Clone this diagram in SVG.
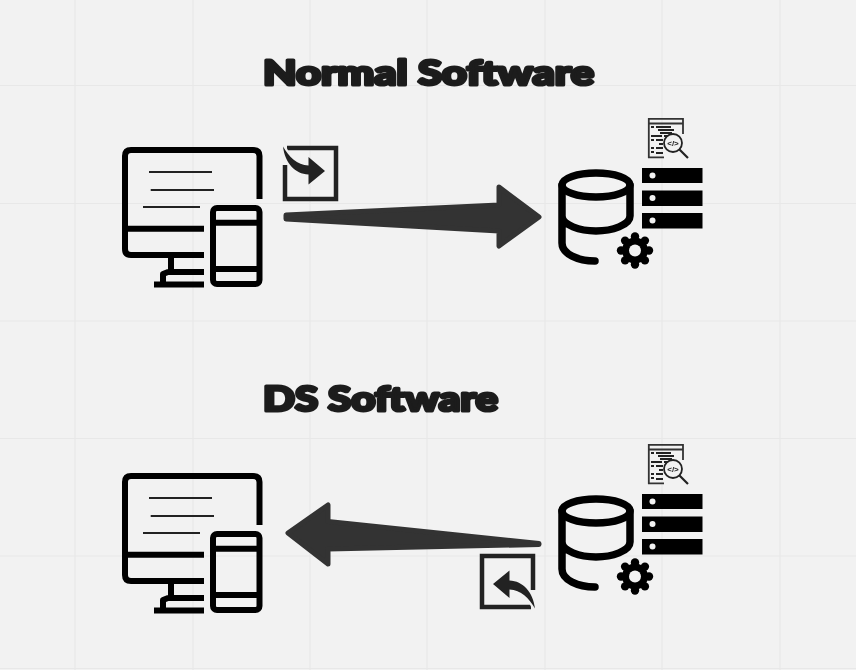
<svg xmlns="http://www.w3.org/2000/svg" width="856" height="670" viewBox="0 0 856 670">
<style>
.grid{stroke:#e8e8e8;stroke-width:1.2;fill:none}
.title{font-family:"Lato","Liberation Sans",sans-serif;font-weight:900;font-size:35px;fill:#1c1c1c;stroke:#1c1c1c;stroke-width:3.2px;stroke-linejoin:round;filter:url(#gray)}
.k{fill:none;stroke:#000;stroke-width:6;stroke-linejoin:round}
.thin{fill:none;stroke:#222;stroke-width:2}
.db{fill:none;stroke:#000;stroke-width:7.5;stroke-linecap:round;stroke-linejoin:round}
.doc{fill:none;stroke:#333;stroke-width:1.8}
.docl{fill:none;stroke:#222;stroke-width:1.8}
.arrow{fill:#333;stroke:#333;stroke-width:5;stroke-linejoin:round}
.bar{fill:#000}
.dot{fill:#f2f2f2}
</style>
<defs>
<filter id="gray" x="-5%" y="-20%" width="110%" height="140%"><feOffset dx="0" dy="0"/></filter>
<g id="client">
<path class="k" d="M204 255H131Q125 255 125 249V156Q125 150 131 150H253Q259.500 150 259.500 156V199"/>
<path class="k" d="M125 228.700H204M171 257V272M204 272H168L163 274V284.500M154 284.500H204"/>
<path class="thin" d="M149 172H212M150.700 190H214M143 207H200"/>
<rect class="k" x="213" y="208" width="46.500" height="76" rx="4"/>
<path class="k" d="M213 222.700H259.500M213 269H259.500"/>
</g>
<g id="server">
<ellipse class="db" cx="596" cy="185" rx="34" ry="12"/>
<path class="db" d="M630 185V216C630 225 612 231 596 231C580 231 562 225 562 216M562 185V243C562 254 578 261 595 261"/>
<g fill="#000">
<circle cx="635" cy="250.500" r="13"/>
<circle cx="635" cy="236.500" r="4.200"/>
<circle cx="635" cy="264.500" r="4.200"/>
<circle cx="621" cy="250.500" r="4.200"/>
<circle cx="649" cy="250.500" r="4.200"/>
<circle cx="625.100" cy="240.600" r="4.200"/>
<circle cx="644.900" cy="240.600" r="4.200"/>
<circle cx="625.100" cy="260.400" r="4.200"/>
<circle cx="644.900" cy="260.400" r="4.200"/>
</g>
<circle cx="635" cy="250.500" r="6" fill="#f2f2f2"/>
<rect class="bar" x="642" y="168" width="60.500" height="15"/>
<rect class="bar" x="642" y="190.500" width="60.500" height="15.500"/>
<rect class="bar" x="642" y="213" width="60.500" height="15.500"/>
<circle class="dot" cx="652.500" cy="175.500" r="3"/>
<circle class="dot" cx="652.500" cy="198" r="3"/>
<circle class="dot" cx="652.500" cy="220.500" r="3"/>
<path class="doc" d="M664 157.300H648.800V118.800H683V134M648.800 123.500H683"/>
<path class="docl" d="M651 127H654M656 127H671M658 130H674M660 133H672M651 136H662M664 136H668M651 140H654M656 140H663M659 144H663M651 148H654M656 148H663M651 152H654M656 153H663"/>
<circle cx="673" cy="143" r="9" fill="#f2f2f2" stroke="#222" stroke-width="1.800"/>
<path d="M679.500 149.500L688 158" stroke="#222" stroke-width="2.200" fill="none"/>
<text x="673" y="146" text-anchor="middle" font-family="'Liberation Sans',sans-serif" font-size="8" font-weight="700" fill="#222" filter="url(#gray)">&lt;/&gt;</text>
</g>
<g id="swapicon">
<path d="M287 148H336V199H285V165" fill="none" stroke="#222" stroke-width="4.500"/>
<path d="M282 144C286 160 297 170 310 166" fill="none" stroke="#f2f2f2" stroke-width="7"/>
<path fill="#222" d="M283 146.500C289 157 297 165 308.500 165.500V157L325 171L308.500 184.500V174.500C295 174 285 163 283 146.500Z"/>
</g>
</defs>
<rect width="856" height="670" fill="#f2f2f2"/>
<g id="grid">
<path class="grid" d="M75 0V670M193 0V670M310 0V670M427 0V670M545 0V670M662 0V670M780 0V670M0 85.500H856M0 203.500H856M0 321H856M0 438.500H856M0 556H856M0 668.500H856"/>
</g>
<text id="title-normal" class="title" x="263" y="84.500" textLength="331" lengthAdjust="spacingAndGlyphs">Normal Software</text>
<text id="title-ds" class="title" x="263" y="410.500" textLength="235" lengthAdjust="spacingAndGlyphs">DS Software</text>
<g id="normal-client"><use href="#client"/></g>
<g id="normal-server"><use href="#server"/></g>
<g id="ds-client"><use href="#client" y="326"/></g>
<g id="ds-server"><use href="#server" y="326"/></g>
<g id="normal-request-icon"><use href="#swapicon"/></g>
<g id="ds-response-icon"><use href="#swapicon" transform="rotate(180 409 377.500)"/></g>
<g id="connectors">
<path class="arrow" d="M286 215L499 205V187L539 217L499 246V231L286 219Z"/>
<path class="arrow" d="M288 533L328 505V521.500L539 543.500V544.500L328 549V564Z"/>
</g>
</svg>
